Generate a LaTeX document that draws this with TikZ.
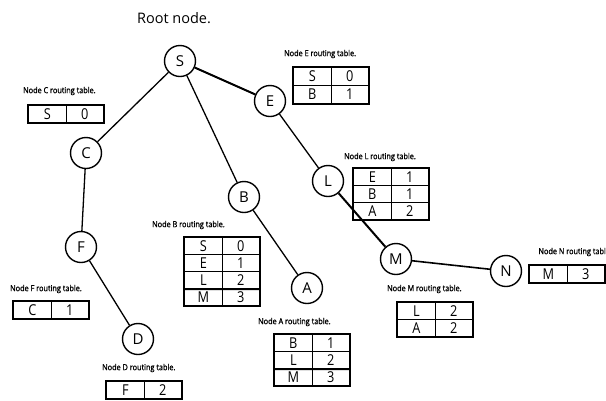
\documentclass[tikz,border=0pt]{standalone}
\usepackage{fontspec}
\setmainfont{Open Sans}
\newfontfamily\lblfont[FakeBold=1.2,FakeStretch=0.88]{Open Sans}
\newfontfamily\cellfont[FakeStretch=0.85]{Open Sans}
\usetikzlibrary{matrix}
\tikzset{
  tnode/.style={circle, draw, line width=1.4pt, minimum size=31pt, inner sep=0pt, font=\fontsize{15}{15}\selectfont},
  edge/.style={line width=1.3pt},
  thickedge/.style={line width=2pt},
  lbl/.style={anchor=west, inner sep=0pt, font=\lblfont\fontsize{8.3}{9}\selectfont},
  rtab/.style={matrix of nodes, anchor=north west, inner sep=0pt, draw, line width=2.2pt,
    column sep=-1pt, row sep=-1pt,
    nodes={draw, line width=1pt, minimum width=37.5pt, minimum height=17pt, inner sep=0pt,
      font=\cellfont\fontsize{15}{15}\selectfont}},
}
\begin{document}
\begin{tikzpicture}[x=1pt,y=-1pt]
\useasboundingbox (0,0) rectangle (606,400);
% title
\node[inner sep=0pt, font=\fontsize{14.5}{15}\selectfont] (title) at (174,18) {Root node.};
% tree nodes
\node[tnode] (S) at (180,61) {S};
\node[tnode] (E) at (270,101) {E};
\node[tnode] (C) at (86,153) {C};
\node[tnode] (B) at (244,197) {B};
\node[tnode] (F) at (81,247) {F};
\node[tnode] (A) at (307,288) {A};
\node[tnode] (D) at (138,339) {D};
\node[tnode] (L) at (328,181) {L};
\node[tnode] (M) at (396,259) {M};
\node[tnode] (N) at (506,271) {N};
% connectors
\draw[thickedge] (S) -- (E);
\draw[edge] (S) -- (C);
\draw[edge] (S) -- (B);
\draw[edge] (C) -- (F);
\draw[edge] (F) -- (D);
\draw[edge] (B) -- (A);
\draw[edge] (E) -- (L);
\draw[thickedge] (L) -- (M);
\draw[edge, line width=1.6pt] (M) -- (N);
% routing tables
\node[lbl] (lC) at (23,91) {Node C routing table.};
\matrix[rtab] (tC) at (27,104) {S & 0 \\};
\node[lbl] (lE) at (284,54) {Node E routing table.};
\matrix[rtab, nodes={minimum height=18pt}] (tE) at (292,66) {S & 0 \\ B & 1 \\};
\node[lbl] (lL) at (344,157) {Node L routing table.};
\matrix[rtab] (tL) at (352,167) {E & 1 \\ B & 1 \\ A & 2 \\};
\node[lbl] (lB) at (152,225) {Node B routing table.};
\matrix[rtab] (tB) at (183,236) {S & 0 \\ E & 1 \\ L & 2 \\ M & 3 \\};
\draw[line width=2pt] (tB-3-1.south west) -- (tB-3-2.south east);
\node[lbl] (lF) at (10,289) {Node F routing table.};
\matrix[rtab] (tF) at (12,300) {C & 1 \\};
\node[lbl] (lD) at (102,368) {Node D routing table.};
\matrix[rtab] (tD) at (105,380) {F & 2 \\};
\node[lbl] (lA) at (258,322) {Node A routing table.};
\matrix[rtab] (tA) at (273,333) {B & 1 \\ L & 2 \\ M & 3 \\};
\draw[line width=1.8pt] (tA-2-1.south west) -- (tA-2-2.south east);
\node[lbl] (lM) at (387,289) {Node M routing table.};
\matrix[rtab] (tM) at (396,301) {L & 2 \\ A & 2 \\};
\node[lbl, anchor=east] (lN) at (606,252) {Node N routing tabl};
\matrix[rtab] (tN) at (528,264) {M & 3 \\};
\end{tikzpicture}
\end{document}
